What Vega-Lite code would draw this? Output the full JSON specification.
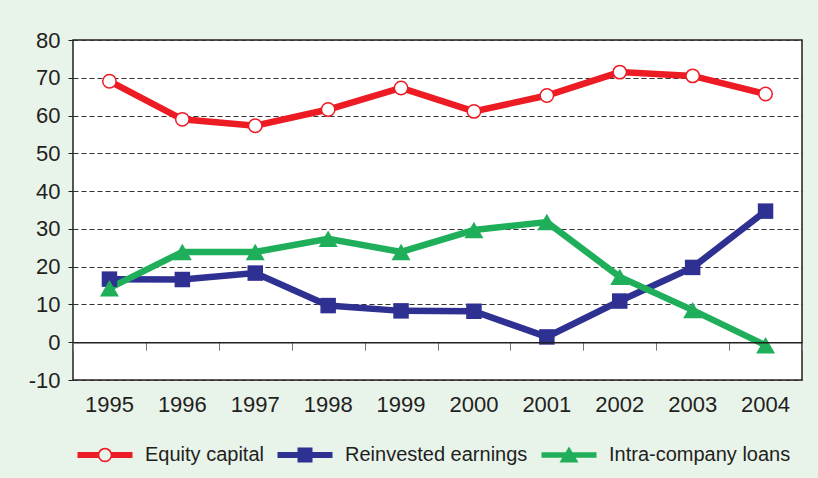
{
  "$schema": "https://vega.github.io/schema/vega-lite/v6.json",
  "width": 729,
  "height": 340,
  "autosize": "none",
  "padding": {"left": 73, "top": 40, "right": 16, "bottom": 98},
  "background": "#e8f3ea",
  "config": {
    "view": {"fill": "white", "stroke": "#231f20", "strokeWidth": 1.5},
    "font": "Liberation Sans",
    "axis": {"labelColor": "#231f20", "labelFont": "Liberation Sans", "labelFontSize": 22, "title": null}
  },
  "data": {
    "values": [
      {"year": "1995", "series": "Reinvested earnings", "value": 16.7},
      {"year": "1996", "series": "Reinvested earnings", "value": 16.6},
      {"year": "1997", "series": "Reinvested earnings", "value": 18.3},
      {"year": "1998", "series": "Reinvested earnings", "value": 9.7},
      {"year": "1999", "series": "Reinvested earnings", "value": 8.3},
      {"year": "2000", "series": "Reinvested earnings", "value": 8.2},
      {"year": "2001", "series": "Reinvested earnings", "value": 1.4},
      {"year": "2002", "series": "Reinvested earnings", "value": 10.9},
      {"year": "2003", "series": "Reinvested earnings", "value": 19.8},
      {"year": "2004", "series": "Reinvested earnings", "value": 34.7},
      {"year": "1995", "series": "Intra-company loans", "value": 14.3},
      {"year": "1996", "series": "Intra-company loans", "value": 23.9},
      {"year": "1997", "series": "Intra-company loans", "value": 23.9},
      {"year": "1998", "series": "Intra-company loans", "value": 27.4},
      {"year": "1999", "series": "Intra-company loans", "value": 23.9},
      {"year": "2000", "series": "Intra-company loans", "value": 29.7},
      {"year": "2001", "series": "Intra-company loans", "value": 31.8},
      {"year": "2002", "series": "Intra-company loans", "value": 17.3},
      {"year": "2003", "series": "Intra-company loans", "value": 8.5},
      {"year": "2004", "series": "Intra-company loans", "value": -0.8},
      {"year": "1995", "series": "Equity capital", "value": 69.1},
      {"year": "1996", "series": "Equity capital", "value": 59.0},
      {"year": "1997", "series": "Equity capital", "value": 57.3},
      {"year": "1998", "series": "Equity capital", "value": 61.6},
      {"year": "1999", "series": "Equity capital", "value": 67.3},
      {"year": "2000", "series": "Equity capital", "value": 61.1},
      {"year": "2001", "series": "Equity capital", "value": 65.3},
      {"year": "2002", "series": "Equity capital", "value": 71.5},
      {"year": "2003", "series": "Equity capital", "value": 70.5},
      {"year": "2004", "series": "Equity capital", "value": 65.7}
    ]
  },
  "resolve": {"axis": {"x": "independent"}},
  "layer": [
    {
      "mark": {"type": "line", "strokeWidth": 6.5, "strokeJoin": "miter"},
      "encoding": {
        "x": {
          "field": "year", "type": "ordinal",
          "scale": {"type": "band", "paddingInner": 0, "paddingOuter": 0},
          "axis": {"orient": "bottom", "domain": false, "ticks": false, "labelPadding": 14, "labelAngle": 0, "grid": false}
        },
        "y": {
          "field": "value", "type": "quantitative",
          "scale": {"domain": [-10, 80], "nice": false, "zero": false},
          "axis": {
            "values": [-10, 0, 10, 20, 30, 40, 50, 60, 70, 80], "tickCount": 20,
            "labelOverlap": false, "labelExpr": "datum.value + ''",
            "domain": false, "tickSize": 5, "tickColor": "#231f20", "labelPadding": 8,
            "grid": true, "gridColor": "#333333", "gridDash": [5, 3], "gridWidth": 1, "gridOpacity": 1
          }
        },
        "color": {
          "field": "series", "type": "nominal",
          "scale": {"domain": ["Equity capital", "Reinvested earnings", "Intra-company loans"], "range": ["#ed1c24", "#2e3192", "#1fae5a"]},
          "legend": {
            "title": null, "orient": "none", "legendX": 22, "legendY": 405, "direction": "horizontal",
            "padding": 0, "symbolSize": 400, "labelOffset": 30, "columnPadding": 13,
            "labelFontSize": 20, "labelColor": "#231f20", "labelFont": "Liberation Sans", "labelLimit": 300,
            "encode": {
              "symbols": {
                "update": {
                  "shape": {"signal": "datum.value === 'Equity capital' ? 'M-2.75,-0.3H-0.6V0.3H-2.75Z M0.6,-0.3H2.75V0.3H0.6Z M0.72,0A0.72,0.72,0,1,1,-0.72,0A0.72,0.72,0,1,1,0.72,0Z M0.56,0A0.56,0.56,0,1,0,-0.56,0A0.56,0.56,0,1,0,0.56,0Z' : datum.value === 'Reinvested earnings' ? 'M-2.75,-0.3H2.75V0.3H-2.75Z M-0.75,-0.75H0.75V0.75H-0.75Z' : 'M-2.75,-0.27H2.75V0.27H-2.75Z M0,-0.85L0.95,0.75H-0.95Z'"},
                  "fill": {"signal": "scale('color', datum.value)"},
                  "stroke": {"value": "transparent"},
                  "strokeWidth": {"value": 0},
                  "size": {"value": 400},
                  "opacity": {"value": 1}
                }
              }
            }
          }
        },
        "detail": {"field": "series"}
      }
    },
    {
      "transform": [{"filter": "datum.series === 'Equity capital'"}],
      "mark": {"type": "point", "shape": "circle", "filled": false, "fill": "#ffffff", "stroke": "#ed1c24", "strokeWidth": 1.5, "size": 180, "opacity": 1},
      "encoding": {
        "x": {
          "field": "year", "type": "ordinal",
          "axis": {"orient": "bottom", "offset": -37.8, "labels": false, "grid": false, "tickBand": "extent", "tickSize": 8, "tickColor": "#777777", "domain": true, "domainColor": "#231f20", "domainWidth": 1.5, "zindex": 1}
        },
        "y": {"field": "value", "type": "quantitative"}
      }
    },
    {
      "transform": [{"filter": "datum.series === 'Reinvested earnings'"}],
      "mark": {"type": "square", "color": "#2e3192", "size": 240, "opacity": 1},
      "encoding": {
        "x": {"field": "year", "type": "ordinal", "axis": null},
        "y": {"field": "value", "type": "quantitative"}
      }
    },
    {
      "transform": [{"filter": "datum.series === 'Intra-company loans'"}],
      "mark": {"type": "point", "shape": "triangle-up", "filled": true, "color": "#1fae5a", "size": 360, "opacity": 1},
      "encoding": {
        "x": {"field": "year", "type": "ordinal", "axis": null},
        "y": {"field": "value", "type": "quantitative"}
      }
    }
  ]
}
